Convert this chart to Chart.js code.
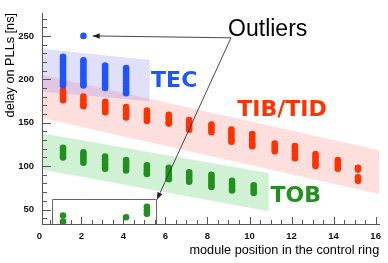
<!DOCTYPE html>
<html>
<head>
<meta charset="utf-8">
<script src="https://cdn.jsdelivr.net/npm/chart.js@4.4.0/dist/chart.umd.min.js"></script>
<style>
  html, body { margin: 0; padding: 0; background: #fff; overflow: hidden; }
  canvas { display: block; }
</style>
</head>
<body>
<canvas id="pllChart" width="388" height="263"></canvas>
<script>
// module position in the ring (x) and PLL delays in ns, one list per column
const tecPos = [1.13, 2.1, 3.13, 4.13];
const tecDelay = [
  [226, 223, 220, 217, 214, 211, 208, 205, 202, 199, 196, 193],
  [222, 219, 216, 213, 210, 207, 204, 201, 198, 195, 193],
  [216, 213, 210, 207, 204, 201, 198, 195, 192, 190],
  [213, 210, 207, 204, 201, 198, 195, 192, 189, 186, 184]
];
const tecOutPos = [2.1];
const tecOutDelay = [[250]];

const tibPos = [1.13, 2.1, 3.14, 4.13, 5.12, 6.16, 7.13, 8.19, 9.14, 10.13, 11.2, 12.16, 13.14, 14.2, 15.16];
const tibDelay = [
  [187, 184, 181, 178, 176],
  [180, 177, 174, 171, 169],
  [174, 171, 168, 165, 162],
  [168, 165, 162, 159, 156],
  [164, 161, 158, 155, 152],
  [159, 156, 153, 150, 149],
  [153, 150, 147, 144, 142],
  [148, 145, 142, 139],
  [142, 139, 136, 133, 130, 128],
  [137, 134, 131, 128, 125, 123],
  [126, 123, 120, 117],
  [123, 120, 117, 114, 111, 109],
  [114, 111, 108, 105, 102, 100],
  [107, 104, 100, 97],
  [98, 96, 87, 83]
];

const tobPos = [1.13, 2.1, 3.13, 4.13, 5.12, 6.16, 7.13, 8.19, 9.17, 10.2];
const tobDelay = [
  [121, 118, 115, 112, 110],
  [116, 113, 110, 107, 104],
  [111, 108, 105, 102, 99, 97],
  [107, 104, 101, 98, 95],
  [101, 98, 95, 92, 91],
  [98, 95, 92, 89, 86, 85],
  [93, 90, 87, 84, 82],
  [90, 87, 84, 81, 78, 76],
  [83, 80, 77, 74, 72],
  [78, 75, 72, 69]
];
const tobOutPos = [1.13, 4.13, 5.12];
const tobOutDelay = [[43, 36], [41], [53, 49, 45]];

const xTickLabels = [0, 2, 4, 6, 8, 10, 12, 14, 16];
const yTickLabels = [50, 100, 150, 200, 250];

const blue = '#1f55ff', red = '#ff3300', green = '#22901f';

function toPoints(pos, delays) {
  const pts = [];
  pos.forEach((p, i) => delays[i].forEach(d => pts.push({ x: p, y: d })));
  return pts;
}

// shaded bands, in axis units
const bands = [
  { color: 'rgba(255,60,60,0.17)', pts: [[0, 206], [16.17, 118.3], [16.17, 67.8], [0, 156]] },
  { color: 'rgba(40,190,60,0.22)', pts: [[0, 138.3], [10.91, 92.2], [10.91, 48.1], [0, 96.6]] },
  { color: 'rgba(100,100,230,0.2)', pts: [[0, 235.6], [5.25, 222.2], [5.25, 174.8], [0, 186.1]] }
];

const decor = {
  id: 'decor',
  beforeDatasetsDraw(chart) {
    const { ctx, chartArea: a, scales: { x, y } } = chart;
    ctx.save();
    ctx.beginPath();
    ctx.rect(a.left, a.top, a.width, a.height);
    ctx.clip();
    bands.forEach(b => {
      ctx.fillStyle = b.color;
      ctx.beginPath();
      b.pts.forEach(([vx, vy], i) => {
        const px = x.getPixelForValue(vx), py = y.getPixelForValue(vy);
        if (i) ctx.lineTo(px, py); else ctx.moveTo(px, py);
      });
      ctx.closePath();
      ctx.fill();
    });
    ctx.restore();
  },
  afterDraw(chart) {
    const { ctx, chartArea: a, scales: { x, y } } = chart;
    ctx.save();

    // inward tick marks
    ctx.strokeStyle = '#555';
    ctx.lineWidth = 1;
    ctx.beginPath();
    for (let v = 0.5; v <= 16; v += 0.5) {
      const px = Math.round(x.getPixelForValue(v)) + 0.5;
      const len = v % 2 === 0 ? 7 : 4;
      ctx.moveTo(px, a.bottom);
      ctx.lineTo(px, a.bottom - len);
    }
    for (let v = 40; v <= 270; v += 10) {
      const py = Math.round(y.getPixelForValue(v)) + 0.5;
      const len = v % 50 === 0 ? 9 : 5;
      ctx.moveTo(a.left, py);
      ctx.lineTo(a.left + len, py);
    }
    ctx.stroke();

    // box around the low outliers
    const bx0 = Math.round(x.getPixelForValue(0.6)) + 0.5;
    const bx1 = Math.round(x.getPixelForValue(5.57)) + 0.5;
    const by = Math.round(y.getPixelForValue(62.2)) + 0.5;
    ctx.strokeStyle = '#666';
    ctx.beginPath();
    ctx.moveTo(bx0, a.bottom);
    ctx.lineTo(bx0, by);
    ctx.lineTo(bx1, by);
    ctx.lineTo(bx1, a.bottom);
    ctx.stroke();

    // arrows from the "Outliers" label
    const sx = x.getPixelForValue(9.12), sy = y.getPixelForValue(247.8);
    ctx.strokeStyle = '#333';
    ctx.fillStyle = '#222';
    ctx.lineWidth = 0.9;
    arrow(ctx, sx, sy, x.getPixelForValue(2.54), y.getPixelForValue(250));
    arrow(ctx, sx, sy, bx1 + 0.5, by);

    // text labels
    ctx.textBaseline = 'alphabetic';
    ctx.textAlign = 'left';
    ctx.fillStyle = '#000';
    ctx.font = '23px "Liberation Sans"';
    ctx.fillText('Outliers', x.getPixelForValue(8.98), y.getPixelForValue(249.5));
    ctx.font = 'bold 22px "DejaVu Sans"';
    ctx.fillStyle = blue;
    ctx.fillText('TEC', x.getPixelForValue(5.32), y.getPixelForValue(191.1));
    ctx.fillStyle = red;
    ctx.fillText('TIB/TID', x.getPixelForValue(9.42), y.getPixelForValue(158.1));
    ctx.fillStyle = green;
    ctx.fillText('TOB', x.getPixelForValue(11.0), y.getPixelForValue(58.1));

    // y axis title, right aligned near the top
    ctx.fillStyle = '#000';
    ctx.font = '12.7px "Liberation Sans"';
    ctx.translate(14, 13);
    ctx.rotate(-Math.PI / 2);
    ctx.textAlign = 'right';
    ctx.fillText('delay on PLLs [ns]', 0, 0);
    ctx.restore();
  }
};

function arrow(ctx, x0, y0, x1, y1) {
  ctx.beginPath();
  ctx.moveTo(x0, y0);
  ctx.lineTo(x1, y1);
  ctx.stroke();
  const ang = Math.atan2(y1 - y0, x1 - x0), L = 7, W = 2.8;
  const c = Math.cos(ang), s = Math.sin(ang);
  ctx.beginPath();
  ctx.moveTo(x1, y1);
  ctx.lineTo(x1 - L * c + W * s, y1 - L * s - W * c);
  ctx.lineTo(x1 - L * c - W * s, y1 - L * s + W * c);
  ctx.closePath();
  ctx.fill();
}

const tickFont = { family: '"Liberation Sans"', size: 9.5, weight: 'bold' };

new Chart(document.getElementById('pllChart'), {
  type: 'scatter',
  data: {
    datasets: [
      { label: 'TEC', data: toPoints(tecPos, tecDelay).concat(toPoints(tecOutPos, tecOutDelay)), backgroundColor: blue },
      { label: 'TIB/TID', data: toPoints(tibPos, tibDelay), backgroundColor: red },
      { label: 'TOB', data: toPoints(tobPos, tobDelay).concat(toPoints(tobOutPos, tobOutDelay)), backgroundColor: green }
    ]
  },
  options: {
    responsive: false,
    animation: false,
    layout: { padding: { top: 6, right: 7, left: 0, bottom: 0 } },
    elements: { point: { radius: 3.3, borderWidth: 0, hoverRadius: 3.3 } },
    plugins: { legend: { display: false }, tooltip: { enabled: false } },
    scales: {
      x: {
        type: 'linear',
        min: 0.13,
        max: 16.17,
        afterBuildTicks: s => { s.ticks = xTickLabels.map(v => ({ value: v })); },
        afterFit: s => { s.height = 39; },
        grid: { display: false, drawTicks: false },
        border: { color: '#555', width: 1 },
        ticks: { color: '#111', font: tickFont, padding: 7, maxRotation: 0, autoSkip: false },
        title: {
          display: true,
          text: 'module position in the control ring',
          align: 'end',
          color: '#000',
          font: { family: '"Liberation Sans"', size: 12.7 },
          padding: { top: 0, bottom: 4.5 }
        }
      },
      y: {
        type: 'linear',
        min: 33.3,
        max: 275.6,
        afterBuildTicks: s => { s.ticks = yTickLabels.map(v => ({ value: v })); },
        afterFit: s => { s.width = 42; },
        grid: { display: false, drawTicks: false },
        border: { color: '#555', width: 1 },
        ticks: { color: '#111', font: tickFont, padding: 8, autoSkip: false }
      }
    }
  },
  plugins: [decor]
});
</script>
</body>
</html>
